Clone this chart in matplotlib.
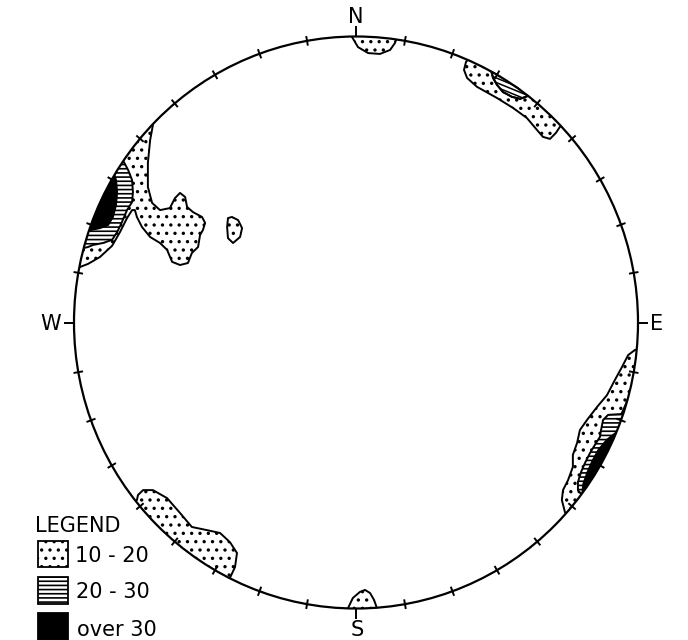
import matplotlib
matplotlib.use('Agg')
import matplotlib.pyplot as plt
from matplotlib.patches import Circle, Polygon, Rectangle
import numpy as np

plt.rcParams['font.family'] = 'DejaVu Sans'
plt.rcParams['hatch.linewidth'] = 1.2

# contour outlines on the net: x east, y north, in percent of net radius.
# points beyond r=100 are trimmed by the primitive circle
nw_10_20 = [(-97.9, 19.4), (-104.3, 16.6), (-108.5, 42.8), (-92.6, 69.1), (-73.0, 74.3),
            (-72.0, 69.1), (-73.0, 63.8), (-73.8, 55.8), (-73.8, 47.4), (-72.3, 41.8),
            (-69.5, 39.3), (-66.0, 40.0), (-64.2, 43.5), (-62.4, 45.3), (-60.6, 43.9),
            (-59.9, 40.4), (-57.8, 38.6), (-54.6, 36.9), (-53.5, 34.8), (-54.3, 32.3),
            (-55.3, 30.6), (-56.0, 26.4), (-58.2, 24.3), (-59.6, 20.8), (-62.4, 20.1),
            (-65.2, 21.2), (-67.0, 25.4), (-69.5, 27.8), (-73.0, 29.9), (-75.9, 33.4),
            (-77.7, 36.9), (-78.4, 39.3), (-79.4, 39.3), (-81.2, 36.5), (-83.7, 31.6),
            (-86.5, 26.8), (-90.8, 22.9), (-95.0, 20.5)]
nw_20_30 = [(-95.0, 26.4), (-102.1, 24.7), (-98.6, 48.1), (-87.9, 57.5), (-82.3, 56.1),
            (-80.8, 53.3), (-79.4, 49.8), (-79.1, 45.6), (-79.4, 42.1), (-81.2, 39.3),
            (-83.0, 35.1), (-84.7, 31.6), (-86.5, 28.9), (-89.7, 27.8), (-93.3, 27.1)]
nw_over_30 = [(-94.3, 32.3), (-100.7, 31.3), (-93.6, 54.0), (-87.2, 54.7), (-85.8, 51.9),
              (-85.1, 49.8), (-84.7, 45.6), (-85.1, 41.1), (-86.2, 36.9), (-87.9, 34.1),
              (-90.8, 33.0)]
nw_patch = [(-44.0, 36.9), (-41.8, 35.8), (-40.4, 33.0), (-41.1, 29.9), (-43.6, 27.8),
            (-45.4, 29.5), (-45.7, 33.4), (-45.4, 36.5)]

ne_10_20 = [(39.0, 91.1), (38.3, 88.3), (39.4, 85.5), (42.9, 82.4), (50.0, 78.5),
            (55.7, 75.0), (60.6, 71.5), (64.2, 67.3), (66.3, 64.9), (68.8, 64.2),
            (70.9, 66.3), (72.3, 68.4), (78.7, 71.5), (44.0, 97.0)]
# this one hugs the rim closely, its hatch is clipped to the outline itself
ne_20_30 = [(47.9, 88.2), (48.6, 85.5), (50.0, 83.1), (52.1, 80.6), (55.3, 78.9),
            (58.2, 78.2), (61.5, 79.4), (57.2, 82.5), (52.6, 85.5)]

n_10_20 = [(-1.4, 99.8), (0.7, 96.3), (4.3, 94.2), (8.5, 93.9), (12.1, 95.3),
           (13.8, 97.7), (14.5, 99.5), (15.6, 104.0), (-2.1, 104.0)]
s_10_20 = [(-2.8, -99.8), (-1.1, -96.3), (1.4, -94.2), (3.2, -93.5), (5.0, -94.6),
           (6.4, -97.0), (7.4, -99.8), (8.5, -104.0), (-3.9, -104.0)]

sw_10_20 = [(-77.7, -62.1), (-77.3, -60.3), (-75.5, -58.6), (-72.0, -58.6), (-67.0, -61.4),
            (-62.4, -66.6), (-58.2, -71.5), (-52.8, -72.6), (-48.2, -73.6), (-44.7, -76.8),
            (-42.2, -80.6), (-42.9, -85.5), (-44.7, -89.3), (-47.5, -94.2), (-83.0, -64.9)]

se_10_20 = [(98.9, -9.6), (96.5, -11.4), (94.3, -15.6), (91.8, -20.1), (89.0, -25.4),
            (85.5, -29.5), (81.9, -34.1), (79.4, -37.6), (78.4, -42.1), (76.9, -46.3),
            (76.9, -50.5), (75.2, -55.1), (73.4, -58.6), (73.0, -62.1), (74.1, -66.3),
            (76.6, -70.8), (105.0, -7.9)]
se_20_30 = [(94.0, -32.0), (89.4, -32.3), (87.6, -34.1), (86.9, -37.6), (86.5, -40.0),
            (84.7, -42.8), (83.0, -45.6), (81.2, -49.1), (79.8, -52.3), (78.7, -55.8),
            (78.7, -58.6), (80.1, -60.3), (83.0, -63.8), (100.7, -30.6)]
se_over_30 = [(93.5, -37.5), (89.0, -41.0), (86.0, -44.5), (83.8, -48.5), (82.0, -52.5),
              (80.6, -56.5), (80.3, -59.5), (84.0, -62.0), (100.0, -40.0)]

tick_az = np.arange(0, 360, 10)
cardinals = ['N', 'E', 'S', 'W']
legend_labels = ['10 - 20', '20 - 30', 'over 30']

dots = dict(facecolor='white', hatch='..')
lines = dict(facecolor='white', hatch='----')
solid = dict(facecolor='black')

fig = plt.figure(figsize=(6.88, 6.4), dpi=100)
ax = fig.add_axes([0, 0, 1, 1])
ax.set_xlim(-126.24, 117.73)
ax.set_ylim(-111.01, 112.76)
ax.axis('off')

net = Circle((0, 0), 100, transform=ax.transData)


def contour(pts, style, z=1):
    p = Polygon(pts, closed=True, lw=1.4, edgecolor='black', joinstyle='round',
                zorder=z, **style)
    ax.add_patch(p)
    p.set_clip_path(net)
    return p


for pts in [nw_10_20, nw_patch, ne_10_20, n_10_20, s_10_20, sw_10_20, se_10_20]:
    contour(pts, dots)
contour(nw_20_30, lines)
contour(se_20_30, lines)
contour(nw_over_30, solid)
contour(se_over_30, solid)

# slanted ruling for the small NE 20-30 area
ne_fill = contour(ne_20_30, dict(facecolor='white'), z=2)
slope = np.tan(np.radians(-22))
xs = np.array([44.0, 66.0])
for c in np.arange(96.0, 116.0, 1.6):
    ln, = ax.plot(xs, slope * xs + c, color='black', lw=1.1, zorder=3)
    ln.set_clip_path(ne_fill)
contour(ne_20_30, dict(fill=False), z=4)

ax.add_patch(Circle((0, 0), 100, fill=False, lw=1.6, edgecolor='black', zorder=5))

for az in tick_az:
    a = np.radians(az)
    r0, r1 = (100, 103.5) if az % 90 == 0 else (98.3, 101.7)
    ax.plot([r0 * np.sin(a), r1 * np.sin(a)], [r0 * np.cos(a), r1 * np.cos(a)],
            color='black', lw=1.4, solid_capstyle='butt', clip_on=False, zorder=6)

label_pos = {'N': (0, 104.7), 'E': (106.7, -2.6), 'S': (0.3, -109.6), 'W': (-108.2, -2.6)}
for k in cardinals:
    x, y = label_pos[k]
    ax.text(x, y, k, ha='center', va='baseline', fontsize=15)

# legend
fig.text(35 / 688, 0.16875, 'LEGEND', fontsize=15, va='baseline')
boxes = [(73, 26, dots), (36, 27, lines), (-5, 32, solid)]
text_y = [0.1219, 0.0656, 0.0055]
text_x = [75, 75.5, 77]
for (b, h, style), lab, ty, tx in zip(boxes, legend_labels, text_y, text_x):
    r = Rectangle((38 / 688, b / 640), 30 / 688, h / 640, transform=fig.transFigure,
                  edgecolor='black', lw=1.3, **style)
    fig.add_artist(r)
    fig.text(tx / 688, ty, lab, fontsize=15, va='baseline')

fig.savefig('out.png', dpi=100)
